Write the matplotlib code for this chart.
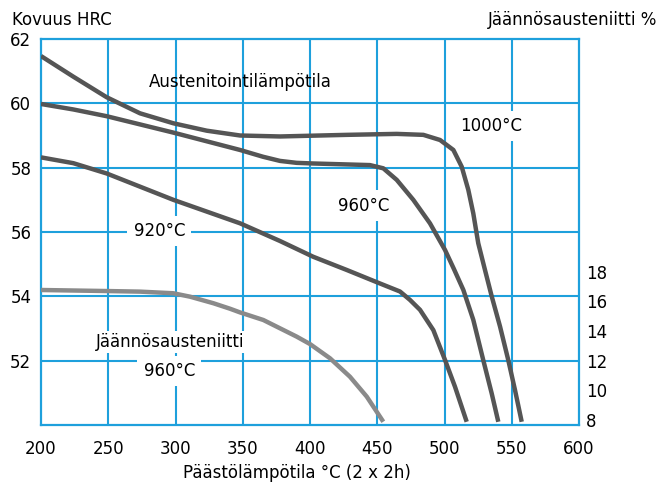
import numpy as np
from matplotlib import pyplot as plt

# kovuus kayrat (HRC), vasen akseli
x_1000 = [200, 224, 248.8, 273.6, 298.4, 323.2, 348, 377.7, 427.3, 464.5, 484.3, 496.7, 506.6, 512.8, 517.7, 521.4, 525.1, 530.1, 535.1, 541.3, 547.4, 552.4, 557.4]
y_1000 = [61.47, 60.83, 60.19, 59.69, 59.38, 59.15, 59.0, 58.97, 59.02, 59.05, 59.02, 58.86, 58.55, 58.03, 57.31, 56.58, 55.65, 54.82, 54.0, 53.06, 52.02, 51.09, 50.1]

x_960 = [200, 224, 248.8, 298.4, 348, 365, 377.7, 390, 402.4, 444.6, 454.5, 464.5, 476.8, 489.2, 500.4, 507, 514, 521.4, 528.8, 535.1, 540]
y_960 = [59.98, 59.81, 59.6, 59.09, 58.55, 58.34, 58.21, 58.15, 58.13, 58.08, 57.98, 57.62, 57.0, 56.27, 55.44, 54.85, 54.2, 53.27, 52.02, 50.98, 50.1]

x_920 = [200, 224, 248.8, 298.4, 348, 377.7, 402.4, 427.3, 452, 466.9, 474.3, 481.8, 491.7, 500.4, 507.8, 516.5]
y_920 = [58.32, 58.14, 57.82, 57.0, 56.27, 55.72, 55.23, 54.82, 54.4, 54.15, 53.89, 53.58, 52.95, 52.02, 51.19, 50.1]

# jaannosausteniitti %, oikea akseli
x_ja = [200, 248.8, 273.6, 298.4, 310.8, 328.1, 340.5, 348, 365.3, 390.1, 400, 414.9, 429.7, 442.2, 454.5]
y_ja = [16.76, 16.69, 16.65, 16.54, 16.31, 15.87, 15.5, 15.25, 14.74, 13.62, 13.12, 12.16, 10.92, 9.58, 7.89]

x_ticks = [200, 250, 300, 350, 400, 450, 500, 550, 600]
y_ticks = [52, 54, 56, 58, 60, 62]
r_ticks = [8, 10, 12, 14, 16, 18]

sininen = '#1ea0dc'
tumma = '#555555'
harmaa = '#8a8a8a'

plt.rcParams['font.family'] = ['DejaVu Sans']

fig = plt.figure(figsize=(6.6, 4.84), dpi=100)
ax = fig.add_axes([41/660, 1 - 425/484, 538/660, 386/484])

ax.set_xlim(200, 600)
ax.set_ylim(50, 62)
ax.set_xticks(x_ticks)
ax.set_yticks(y_ticks)
ax.tick_params(length=0, labelsize=12, colors='black')
ax.tick_params(axis='x', pad=11)
ax.tick_params(axis='y', pad=7)

for v in x_ticks[1:-1]:
    ax.axvline(v, color=sininen, lw=1.5, zorder=1)
for v in [52, 54, 56, 58, 60]:
    ax.axhline(v, color=sininen, lw=1.5, zorder=1)
for s in ax.spines.values():
    s.set_color(sininen)
    s.set_linewidth(1.6)

for xs, ys in [(x_1000, y_1000), (x_960, y_960), (x_920, y_920)]:
    ax.plot(xs, ys, color=tumma, lw=3.2, zorder=4,
            solid_capstyle='butt', solid_joinstyle='round')

laatikko = dict(facecolor='white', edgecolor='none', pad=4.5)
ax.text(348, 60.67, 'Austenitointilämpötila', fontsize=12, ha='center', va='center')
ax.text(534.6, 59.3, '1000°C', fontsize=12, ha='center', va='center', bbox=laatikko, zorder=3)
ax.text(439.8, 56.82, '960°C', fontsize=12, ha='center', va='center', bbox=laatikko, zorder=3)
ax.text(288, 56.03, '920°C', fontsize=12, ha='center', va='center', bbox=laatikko, zorder=3)
ax.text(296, 52.59, 'Jäännösausteniitti', fontsize=12, ha='center', va='center',
        bbox=dict(facecolor='white', edgecolor='none', pad=1.5), zorder=3)
ax.text(295.5, 51.68, '960°C', fontsize=12, ha='center', va='center', bbox=laatikko, zorder=3)

ax2 = ax.twinx()
ax2.set_ylim(7.67, 33.66)
ax2.set_yticks(r_ticks)
ax2.tick_params(length=0, labelsize=12, pad=5)
for s in ax2.spines.values():
    s.set_visible(False)
ax2.plot(x_ja, y_ja, color=harmaa, lw=3.2, solid_capstyle='butt', solid_joinstyle='round')

fig.text(12/660, 1 - 20/484, 'Kovuus HRC', fontsize=12, ha='left', va='center')
fig.text(657/660, 1 - 20/484, 'Jäännösausteniitti %', fontsize=12, ha='right', va='center')
fig.text(297/660, 1 - 473/484, 'Päästölämpötila °C (2 x 2h)', fontsize=12, ha='center', va='center')

fig.savefig('out.png', dpi=100)
